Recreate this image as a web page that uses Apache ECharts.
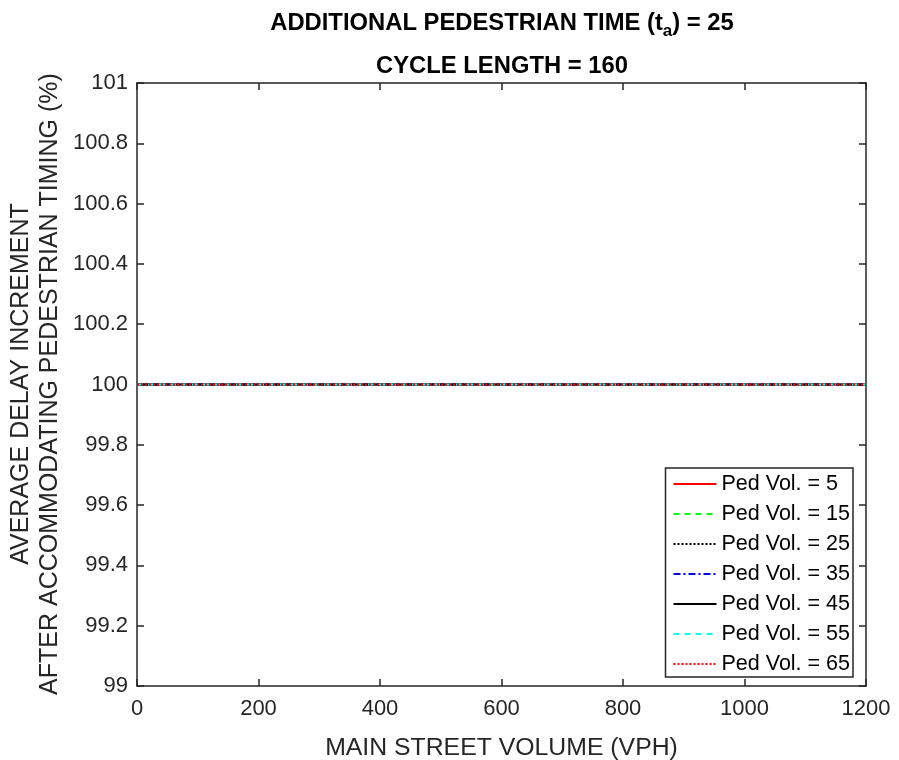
<!DOCTYPE html>
<html>
<head>
<meta charset="utf-8">
<script src="https://cdn.jsdelivr.net/npm/echarts@6/dist/echarts.min.js"></script>
<style>
  html, body { margin: 0; padding: 0; background: #fff; }
  #chart { width: 899px; height: 760px; }
</style>
</head>
<body>
<div id="chart"></div>
<script>
// Main street volume samples (VPH)
const volumes = [0, 100, 200, 300, 400, 500, 600, 700, 800, 900, 1000, 1100, 1200];
// Delay increment (%) per pedestrian volume
const pedVol5  = [100, 100, 100, 100, 100, 100, 100, 100, 100, 100, 100, 100, 100];
const pedVol15 = [100, 100, 100, 100, 100, 100, 100, 100, 100, 100, 100, 100, 100];
const pedVol25 = [100, 100, 100, 100, 100, 100, 100, 100, 100, 100, 100, 100, 100];
const pedVol35 = [100, 100, 100, 100, 100, 100, 100, 100, 100, 100, 100, 100, 100];
const pedVol45 = [100, 100, 100, 100, 100, 100, 100, 100, 100, 100, 100, 100, 100];
const pedVol55 = [100, 100, 100, 100, 100, 100, 100, 100, 100, 100, 100, 100, 100];
const pedVol65 = [100, 100, 100, 100, 100, 100, 100, 100, 100, 100, 100, 100, 100];
const seriesNames = ['Ped Vol. = 5', 'Ped Vol. = 15', 'Ped Vol. = 25', 'Ped Vol. = 35',
                     'Ped Vol. = 45', 'Ped Vol. = 55', 'Ped Vol. = 65'];
const seriesValues = [pedVol5, pedVol15, pedVol25, pedVol35, pedVol45, pedVol55, pedVol65];

const styles = [
  { color: '#ff0000', type: 'solid' },
  { color: '#00ff00', type: [6, 5] },
  { color: '#000000', type: [2, 2] },
  { color: '#0000ff', type: [7, 3, 2, 3] },
  { color: '#000000', type: 'solid' },
  { color: '#00ffff', type: [6, 5] },
  { color: '#ff0000', type: [2, 2] }
];

const FONT = '"Liberation Sans", Arial, Helvetica, sans-serif';
const AX = '#262626';

const chart = echarts.init(document.getElementById('chart'), null, { renderer: 'canvas' });

const series = seriesNames.map((name, i) => ({
  name: name,
  type: 'line',
  symbol: 'none',
  showSymbol: false,
  animation: false,
  data: volumes.map((v, k) => [v, seriesValues[i][k]]),
  lineStyle: { color: styles[i].color, type: styles[i].type, width: 2 },
  itemStyle: { color: styles[i].color }
}));

const tickLabel = { color: AX, fontFamily: FONT, fontSize: 22 };
const frameLine = { show: true, onZero: false, lineStyle: { color: AX, width: 1.5 } };
const innerTick = { show: true, inside: true, length: 7, lineStyle: { color: AX, width: 1.5 } };

chart.setOption({
  backgroundColor: '#ffffff',
  animation: false,
  title: [
    {
      left: 502,
      textAlign: 'center',
      top: 10,
      padding: 0,
      text: '{b|ADDITIONAL PEDESTRIAN TIME (t}{s|a}{b|) = 25}',
      textStyle: {
        rich: {
          b: { fontFamily: FONT, fontSize: 23.8, fontWeight: 'bold', color: '#000', lineHeight: 26 },
          s: { fontFamily: FONT, fontSize: 17, fontWeight: 'bold', color: '#000', padding: [16, 0, 0, 0], lineHeight: 26 }
        }
      }
    },
    {
      left: 502,
      textAlign: 'center',
      top: 54,
      padding: 0,
      text: 'CYCLE LENGTH = 160',
      textStyle: { fontFamily: FONT, fontSize: 23.8, fontWeight: 'bold', color: '#000', lineHeight: 24 }
    }
  ],
  grid: { left: 137, top: 83, right: 33, bottom: 74, containLabel: false, outerBoundsMode: 'none' },
  legend: {
    orient: 'vertical',
    right: 46,
    top: 468,
    data: seriesNames,
    itemWidth: 43,
    itemHeight: 14,
    itemGap: 8,
    padding: [5, 3, 2, 7],
    backgroundColor: '#ffffff',
    borderColor: AX,
    borderWidth: 1.5,
    borderRadius: 0,
    itemStyle: { color: 'transparent', borderColor: 'transparent', borderWidth: 0 },
    lineStyle: { width: 2 },
    textStyle: { fontFamily: FONT, fontSize: 21.5, color: '#000', lineHeight: 22 }
  },
  xAxis: [
    {
      type: 'value', min: 0, max: 1200, interval: 200,
      name: 'MAIN STREET VOLUME (VPH)', nameLocation: 'middle', nameGap: 50,
      nameTextStyle: { color: AX, fontFamily: FONT, fontSize: 24.8 },
      axisLine: frameLine, axisTick: innerTick,
      axisLabel: Object.assign({ margin: 12, formatter: v => String(v) }, tickLabel),
      splitLine: { show: false }
    },
    {
      type: 'value', min: 0, max: 1200, interval: 200, position: 'top',
      axisLine: frameLine, axisTick: innerTick,
      axisLabel: { show: false }, splitLine: { show: false }
    }
  ],
  yAxis: [
    {
      type: 'value', min: 99, max: 101, interval: 0.2,
      axisLine: frameLine, axisTick: innerTick,
      axisLabel: Object.assign({ margin: 9, formatter: v => String(Math.round(v * 10) / 10) }, tickLabel),
      splitLine: { show: false }
    },
    {
      type: 'value', min: 99, max: 101, interval: 0.2, position: 'right',
      axisLine: frameLine, axisTick: innerTick,
      axisLabel: { show: false }, splitLine: { show: false }
    }
  ],
  graphic: [
    {
      type: 'text', x: 21, y: 384, rotation: Math.PI / 2,
      style: { text: 'AVERAGE DELAY INCREMENT', fill: AX, font: '25px ' + FONT, textAlign: 'center', textVerticalAlign: 'middle' }
    },
    {
      type: 'text', x: 50, y: 384, rotation: Math.PI / 2,
      style: { text: 'AFTER ACCOMMODATING PEDESTRIAN TIMING (%)', fill: AX, font: '25px ' + FONT, textAlign: 'center', textVerticalAlign: 'middle' }
    }
  ],
  series: series
});
</script>
</body>
</html>
